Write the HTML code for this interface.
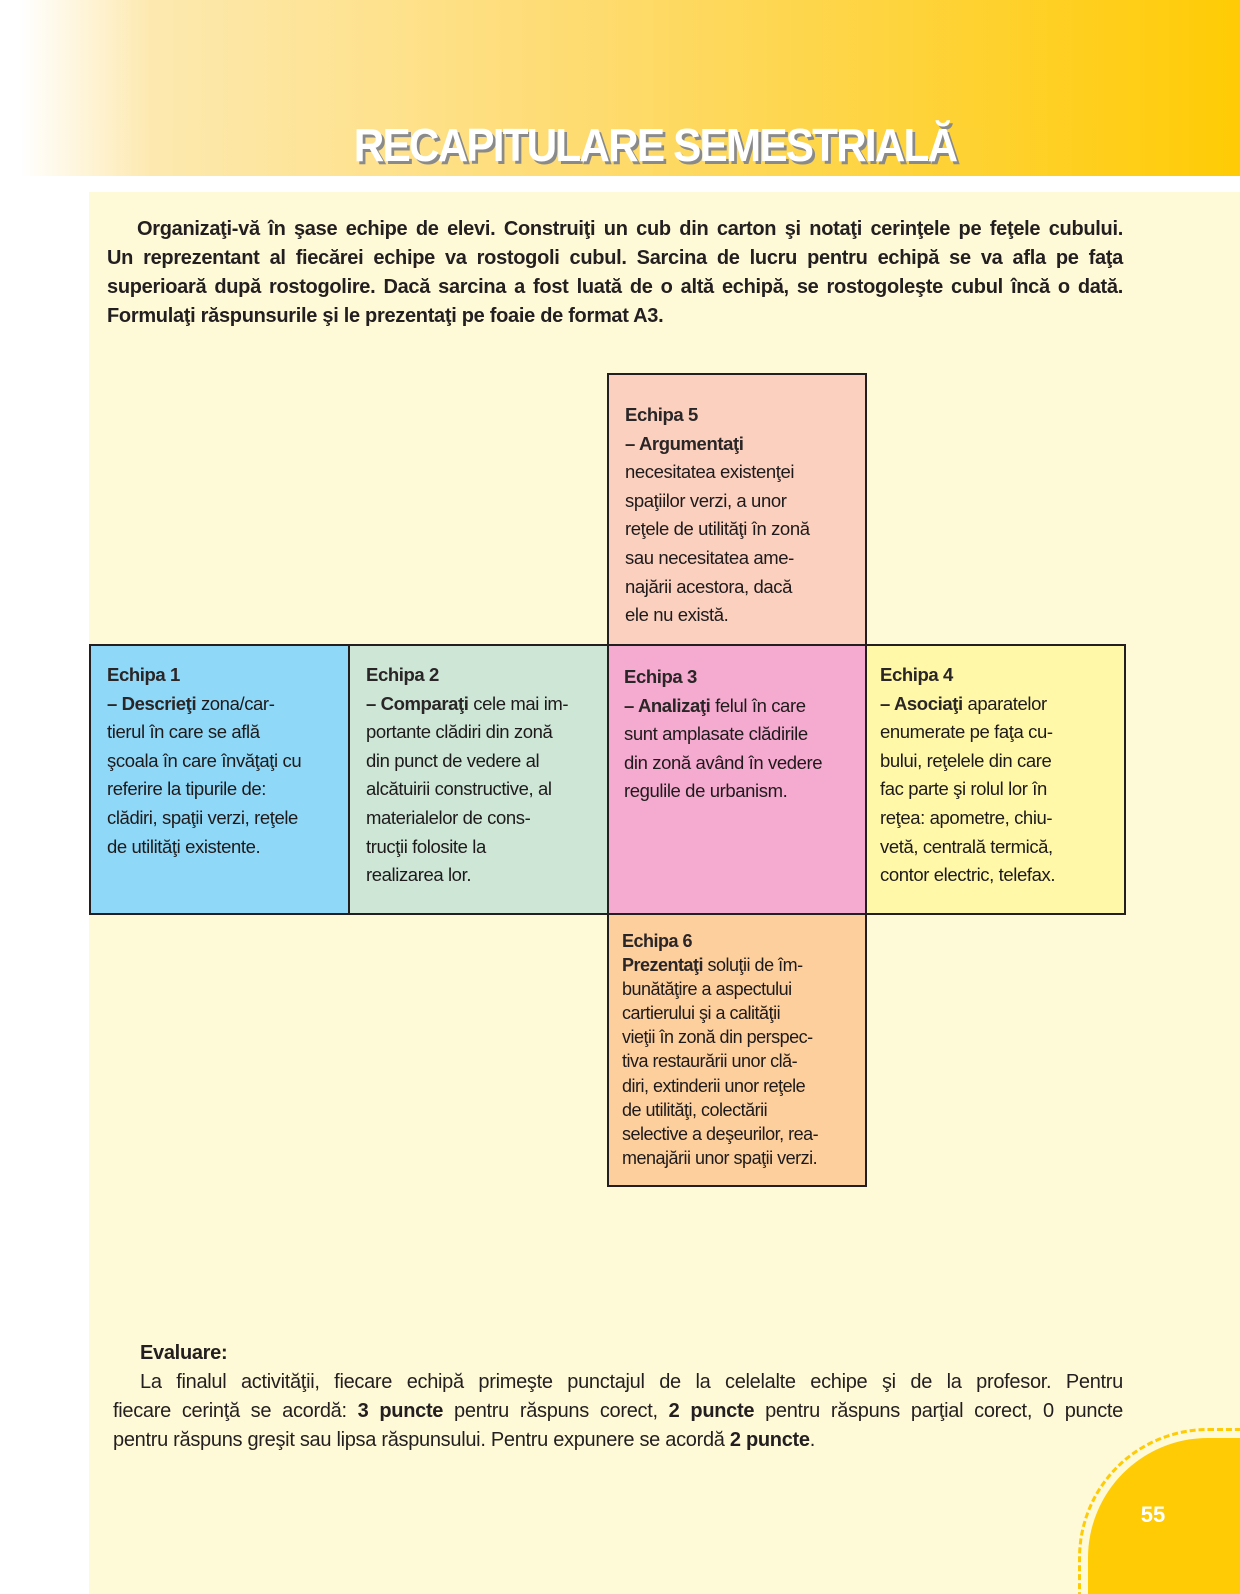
<!DOCTYPE html>
<html><head><meta charset="utf-8">
<style>
*{margin:0;padding:0;box-sizing:border-box}
html,body{width:1240px;height:1594px;background:#fef9d6}
#pg{width:1240px;height:1594px;position:relative;overflow:hidden;background:#fef9d6;font-family:"Liberation Sans",sans-serif;color:#231f20}
.white{position:absolute;left:0;top:0;width:1240px;height:192px;background:#fff}
.white2{position:absolute;left:0;top:0;width:89px;height:1594px;background:#fff}
.hdr{position:absolute;left:0;top:0;width:1240px;height:176px;background:linear-gradient(to right,#fff 0px,#fff 20px,#fde9b0 150px,#fedb6e 600px,#ffcb05 1240px)}
.title{position:absolute;left:310px;top:118px;width:690px;text-align:center;font-weight:bold;font-size:46px;color:#fff;letter-spacing:-2px;text-shadow:3px 3px 0 #8a8a8a;transform:scaleX(0.92)}
.ln{position:absolute;font-weight:bold;font-size:20px;white-space:nowrap;letter-spacing:-0.3px;text-align:justify;text-align-last:justify}
.box{position:absolute;border:2px solid #231f20;font-size:18.5px;line-height:28.6px;padding:14px 0 0 16px;white-space:nowrap;letter-spacing:-0.4px;font-weight:bold;color:#2a2526}
.box span{font-weight:normal;color:#1e1a1b}
.box b{font-weight:bold}
.pn{position:absolute;left:1088px;top:1438px;width:200px;height:200px;background:#ffcb05;border-top-left-radius:120px}
.pd{position:absolute;left:1078px;top:1428px;width:220px;height:220px;border:3px dashed #ffcb05;border-top-left-radius:130px}
</style></head><body><div id="pg">
<div class="white"></div>
<div class="white2"></div>
<div class="hdr"></div>
<div class="title">RECAPITULARE SEMESTRIALĂ</div>

<div class="ln" style="left:137px;top:218px;width:986px">Organizaţi-vă în şase echipe de elevi. Construiţi un cub din carton şi notaţi cerinţele pe feţele cubului.</div>
<div class="ln" style="left:107px;top:247px;width:1016px">Un reprezentant al fiecărei echipe va rostogoli cubul. Sarcina de lucru pentru echipă se va afla pe faţa</div>
<div class="ln" style="left:107px;top:276px;width:1016px">superioară după rostogolire. Dacă sarcina a fost luată de o altă echipă, se rostogoleşte cubul încă o dată.</div>
<div class="ln" style="left:107px;top:305px;text-align:left;text-align-last:left">Formulaţi răspunsurile şi le prezentaţi pe foaie de format A3.</div>

<div class="box" style="left:607px;top:373px;width:260px;height:273px;background:#fbd0bf;padding-top:26px">Echipa 5<br>– Argumentaţi<br><span>necesitatea existenţei<br>spaţiilor verzi, a unor<br>reţele de utilităţi în zonă<br>sau necesitatea ame-<br>najării acestora, dacă<br>ele nu există.</span></div>
<div class="box" style="left:89px;top:644px;width:261px;height:271px;background:#8fd8f8;padding-top:15px">Echipa 1<br>– Descrieţi <span>zona/car-<br>tierul în care se află<br>şcoala în care învăţaţi cu<br>referire la tipurile de:<br>clădiri, spaţii verzi, reţele<br>de utilităţi existente.</span></div>
<div class="box" style="left:348px;top:644px;width:261px;height:271px;background:#cde6d6;padding-top:15px">Echipa 2<br>– Comparaţi <span>cele mai im-<br>portante clădiri din zonă<br>din punct de vedere al<br>alcătuirii constructive, al<br>materialelor de cons-<br>trucţii folosite la<br>realizarea lor.</span></div>
<div class="box" style="left:607px;top:644px;width:260px;height:271px;background:#f4abcf;padding-top:17px;padding-left:15px">Echipa 3<br>– Analizaţi <span>felul în care<br>sunt amplasate clădirile<br>din zonă având în vedere<br>regulile de urbanism.</span></div>
<div class="box" style="left:865px;top:644px;width:261px;height:271px;background:#fff8a8;padding-top:15px;padding-left:13px">Echipa 4<br>– Asociaţi <span>aparatelor<br>enumerate pe faţa cu-<br>bului, reţelele din care<br>fac parte şi rolul lor în<br>reţea: apometre, chiu-<br>vetă, centrală termică,<br>contor electric, telefax.</span></div>
<div class="box" style="left:607px;top:913px;width:260px;height:274px;background:#fdcf9d;font-size:18px;line-height:24.1px;padding-top:14px;padding-left:13px;letter-spacing:-0.5px">Echipa 6<br>Prezentaţi <span>soluţii de îm-<br>bunătăţire a aspectului<br>cartierului şi a calităţii<br>vieţii în zonă din perspec-<br>tiva restaurării unor clă-<br>diri, extinderii unor reţele<br>de utilităţi, colectării<br>selective a deşeurilor, rea-<br>menajării unor spaţii verzi.</span></div>

<div class="ln" style="left:140px;top:1342px;text-align:left;text-align-last:left">Evaluare:</div>
<div class="ln" style="left:140px;top:1371px;width:983px;font-weight:normal">La finalul activităţii, fiecare echipă primeşte punctajul de la celelalte echipe şi de la profesor. Pentru</div>
<div class="ln" style="left:113px;top:1400px;width:1010px;font-weight:normal">fiecare cerinţă se acordă: <b>3 puncte</b> pentru răspuns corect, <b>2 puncte</b> pentru răspuns parţial corect, 0 puncte</div>
<div class="ln" style="left:113px;top:1429px;font-weight:normal;text-align:left;text-align-last:left">pentru răspuns greşit sau lipsa răspunsului. Pentru expunere se acordă <b>2 puncte</b>.</div>

<div class="pd"></div>
<div class="pn"></div>
<div style="position:absolute;left:1128px;top:1502px;width:50px;text-align:center;color:#fff;font-weight:bold;font-size:22px">55</div>
</div></body></html>
